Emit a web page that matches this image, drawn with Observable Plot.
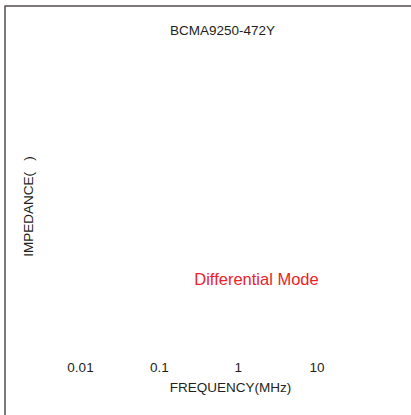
<!DOCTYPE html>
<html>
<head>
<meta charset="utf-8">
<script src="https://cdn.jsdelivr.net/npm/d3@7"></script>
<script src="https://cdn.jsdelivr.net/npm/@observablehq/plot@0.6"></script>
<style>
  html, body { margin: 0; padding: 0; background: #fff; overflow: hidden; }
  svg { overflow: hidden; }
</style>
</head>
<body>
<div id="chart"></div>
<script>
const titleText = ["BCMA9250-472Y"];
const yLabelText = ["IMPEDANCE(   )"];
const xLabelText = ["FREQUENCY(MHz)"];
const modeText = ["Differential Mode"];
const tickValues = [0.01, 0.1, 1, 10];
const tickLabels = ["0.01", "0.1", "1", "10"];

const ink = "#231f20";
const mL = 4.5, mT = 5.5;

const chart = Plot.plot({
  width: 411,
  height: 415,
  marginLeft: mL,
  marginTop: mT,
  marginRight: -20,
  marginBottom: -20,
  style: { fontFamily: "'Liberation Sans', Arial, sans-serif", background: "#fff", overflow: "hidden" },
  x: { type: "log", domain: [0.01, 10], range: [80, 316.5], axis: null },
  y: { axis: null },
  marks: [
    Plot.frame({ stroke: "#3b3434", strokeWidth: 1.3 }),
    Plot.text(titleText, { text: d => d, frameAnchor: "top-left", dx: 222 - mL, dy: 30 - mT,
      textAnchor: "middle", lineAnchor: "middle", fontSize: 13.5, fill: ink }),
    Plot.text(yLabelText, { text: d => d, frameAnchor: "top-left", dx: 28.5 - mL, dy: 206 - mT,
      rotate: -90, textAnchor: "middle", lineAnchor: "middle", fontSize: 13.5, fill: ink }),
    Plot.text(modeText, { text: d => d, frameAnchor: "top-left", dx: 256 - mL, dy: 279 - mT,
      textAnchor: "middle", lineAnchor: "middle", fontSize: 16.5, fill: "#ec2227" }),
    Plot.text(tickValues, { x: d => d, text: (d, i) => tickLabels[i], frameAnchor: "top", dy: 367 - mT,
      textAnchor: "middle", lineAnchor: "middle", fontSize: 13.5, fill: ink }),
    Plot.text(xLabelText, { text: d => d, frameAnchor: "top-left", dx: 230 - mL, dy: 387 - mT,
      textAnchor: "middle", lineAnchor: "middle", fontSize: 13.5, fill: ink })
  ]
});
document.getElementById("chart").appendChild(chart);
</script>
</body>
</html>
